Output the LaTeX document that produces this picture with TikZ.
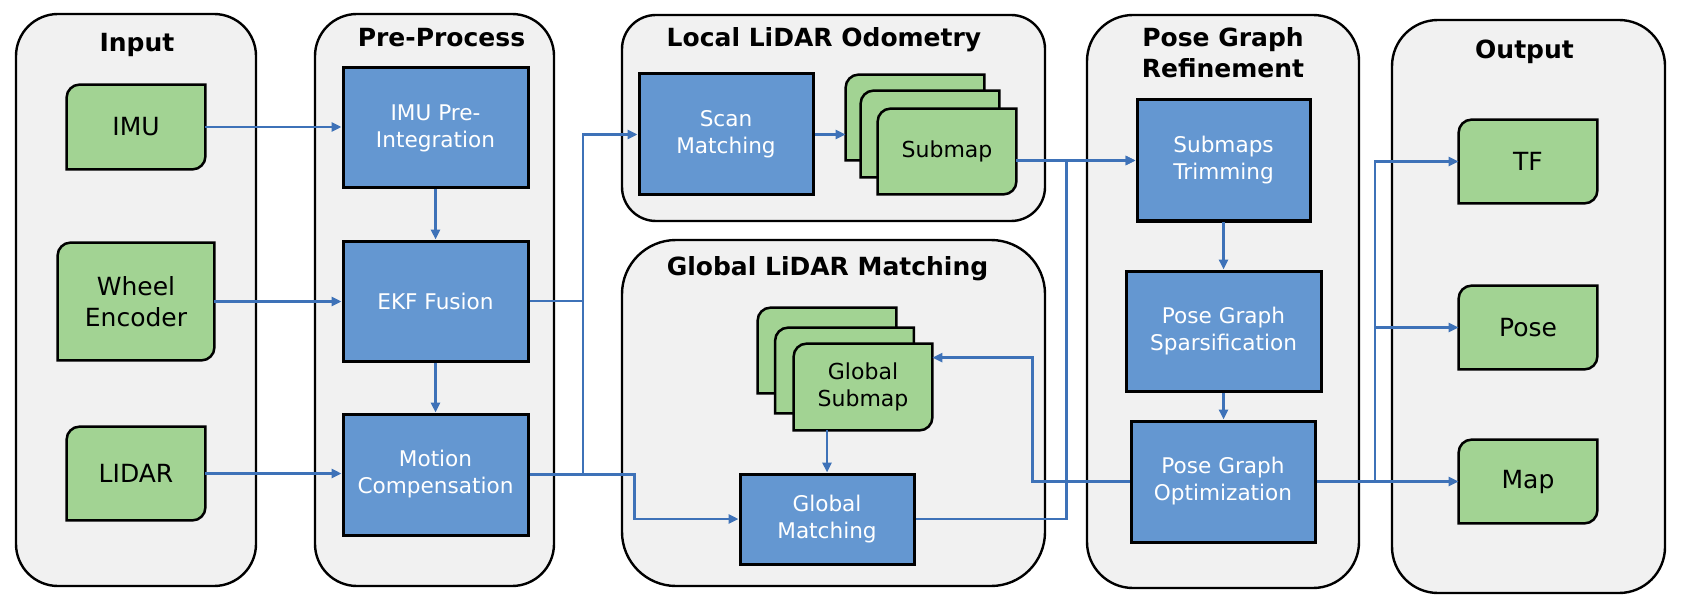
\documentclass[tikz,border=0pt]{standalone}
\usepackage{fontspec}
\setmainfont{DejaVu Sans}
\usetikzlibrary{arrows.meta,calc}
\definecolor{gfill}{RGB}{162,211,147}
\definecolor{bfill}{RGB}{100,151,209}
\definecolor{pfill}{RGB}{241,241,241}
\definecolor{acol}{RGB}{62,114,184}
\pgfdeclarelayer{panels}
\pgfdeclarelayer{cards}
\pgfsetlayers{panels,cards,main}
\newcommand\gshapeof[1]{\path[gshape] (#1.south west) -- ([yshift=-6.5pt]#1.north west) arc[start angle=180,end angle=90,radius=6.5pt] -- (#1.north east) -- ([yshift=6.5pt]#1.south east) arc[start angle=0,end angle=-90,radius=6.5pt] -- cycle;}
\begin{document}
\begin{tikzpicture}[x=0.5pt,y=-0.5pt,
  panel/.style={draw=black, line width=1.2pt, fill=pfill, rounded corners=#1},
  panel/.default=21pt,
  ptitle/.style={font=\fontsize{12.5}{15.5}\selectfont\bfseries, align=center, inner sep=0pt},
  bbox/.style={draw=black, line width=1.5pt, fill=bfill, text=white, font=\fontsize{10.8}{13.5}\selectfont, align=center, inner sep=0pt},
  gnode/.style={inner sep=0pt, align=center, font=\fontsize{12.5}{15.5}\selectfont},
  card/.style={gnode, font=\fontsize{11}{13.5}\selectfont},
  gshape/.style={draw=black, line width=1.25pt, fill=gfill},
  arr/.style={draw=acol, line width=1.3pt, -{Triangle[length=5pt,width=4.5pt]}},
  wire/.style={draw=acol, line width=1.3pt},
]
\useasboundingbox (0,0) rectangle (1684,609);

\begin{pgfonlayer}{panels}
\path[panel] (16,14) rectangle (256,586);
\path[panel] (315,14) rectangle (554,586);
\path[panel=17pt] (622,15) rectangle (1045,221);
\path[panel=27pt] (622,240) rectangle (1045,586);
\path[panel=23pt] (1087,15) rectangle (1359,588);
\path[panel=23pt] (1392,20) rectangle (1665,593);
\end{pgfonlayer}

% titles
\node[ptitle, anchor=base] (tin) at (137,52) {Input};
\node[ptitle, anchor=base] (tpre) at (441.5,47) {Pre-Process};
\node[ptitle, anchor=base] (tloc) at (824,47) {Local LiDAR Odometry};
\node[ptitle, anchor=base] (tglo) at (827.5,275) {Global LiDAR Matching};
\node[ptitle, anchor=base] (tpgr) at (1223,78) {Pose Graph\\Refinement};
\node[ptitle, anchor=base] (tout) at (1524.5,59) {Output};

% input
\node[gnode, minimum width=69pt, minimum height=42pt] (imu) at (136,127) {IMU};
\node[gnode, minimum width=78pt, minimum height=58.5pt] (wheel) at (136,301.5) {Wheel\\Encoder};
\node[gnode, minimum width=69pt, minimum height=46.5pt] (lidar) at (136,473.5) {LIDAR};

% pre-process
\node[bbox, minimum width=92.5pt, minimum height=60pt] (pre) at (435.5,128) {IMU Pre-\\Integration};
\node[bbox, minimum width=92.5pt, minimum height=60pt] (ekf) at (435.5,301) {EKF Fusion};
\node[bbox, minimum width=92.5pt, minimum height=60.5pt] (mc) at (435.5,474.5) {Motion\\Compensation};

% local
\node[bbox, minimum width=87pt, minimum height=60.5pt] (scan) at (726,134.5) {Scan\\Matching};
\node[card, minimum width=69pt, minimum height=42.5pt] (sub1) at (915,117.5) {};
\node[card, minimum width=69pt, minimum height=43pt] (sub2) at (930,134) {};
\node[card, minimum width=69pt, minimum height=42.5pt] (sub3) at (947,151.5) {Submap};

% global
\node[card, minimum width=69pt, minimum height=42.5pt] (gs1) at (827,350.5) {};
\node[card, minimum width=69pt, minimum height=42.5pt] (gs2) at (844.5,370.5) {};
\node[card, minimum width=69pt, minimum height=43pt] (gs3) at (863,387) {Global\\Submap};
\node[bbox, minimum width=87pt, minimum height=45pt] (gm) at (827,519) {Global\\Matching};

% pose graph refinement
\node[bbox, minimum width=86.5pt, minimum height=60.5pt] (trim) at (1223.5,160.5) {Submaps\\Trimming};
\node[bbox, minimum width=97.5pt, minimum height=60pt] (spars) at (1223.5,331) {Pose Graph\\Sparsification};
\node[bbox, minimum width=92pt, minimum height=60.5pt] (pgo) at (1223,481.5) {Pose Graph\\Optimization};

% output
\node[gnode, minimum width=69pt, minimum height=41.5pt] (tf) at (1528,161.5) {TF};
\node[gnode, minimum width=69pt, minimum height=41.5pt] (pose) at (1528,327.5) {Pose};
\node[gnode, minimum width=69pt, minimum height=41.5pt] (map) at (1528,481.5) {Map};

\begin{pgfonlayer}{cards}
\gshapeof{imu}\gshapeof{wheel}\gshapeof{lidar}
\gshapeof{sub1}\gshapeof{sub2}\gshapeof{sub3}
\gshapeof{gs1}\gshapeof{gs2}\gshapeof{gs3}
\gshapeof{tf}\gshapeof{pose}\gshapeof{map}
\end{pgfonlayer}

\coordinate (busA) at (583,0);
\coordinate (busB) at (1375,0);

% connectors
\draw[arr] (imu.east) -- (imu.east -| pre.west);
\draw[arr] (wheel.east) -- (wheel.east -| ekf.west);
\draw[arr] (lidar.east) -- (lidar.east -| mc.west);
\draw[arr] (pre.south) -- (ekf.north);
\draw[arr] (ekf.south) -- (mc.north);
\draw[arr] (ekf.east) -- (ekf.east -| busA) |- (scan.west);
\draw[wire] (ekf.east -| busA) -- (mc.east -| busA);
\draw[arr] (mc.east) -- ++(105,0) |- (gm.west);
\draw[arr] (scan.east) -- (scan.east -| sub1.west);
\draw[arr] (sub3.east |- trim.west) -- (trim.west);
\draw[arr] (gm.east) -- ++(151,0) |- (trim.west);
\draw[arr] (gm.north |- gs3.south) -- (gm.north);
\draw[arr] (pgo.west) -- ++(-97,0) |- ([yshift=-7pt]gs3.north east);
\draw[arr] (trim.south) -- (trim.south |- spars.north);
\draw[arr] (spars.south) -- (spars.south |- pgo.north);
\draw[arr] (pgo.east) -- (map.west);
\draw[arr] (pgo.east -| busB) |- (tf.west);
\draw[arr] (pgo.east -| busB) |- (pose.west);
\end{tikzpicture}
\end{document}
